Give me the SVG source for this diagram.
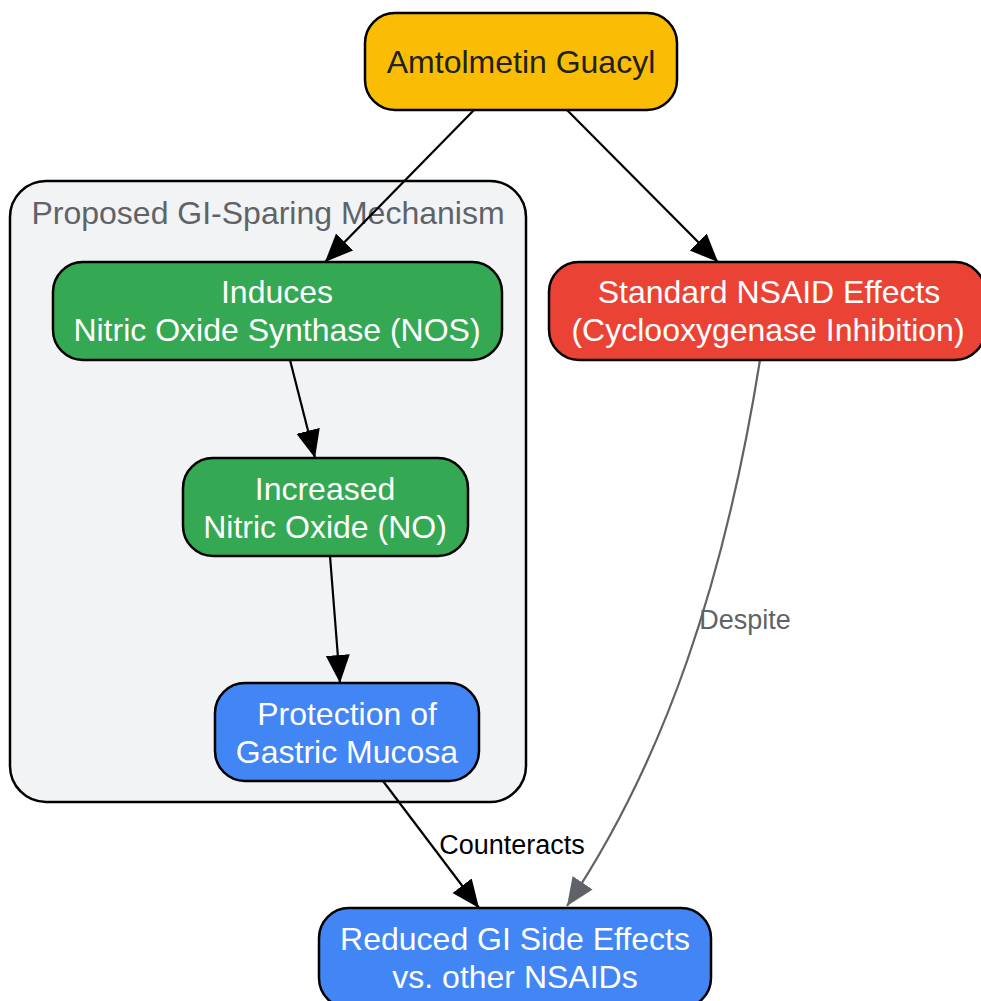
<svg xmlns="http://www.w3.org/2000/svg" width="981" height="1001" viewBox="0 0 981 1001">
<style>
.node{stroke:#000;stroke-width:2.5}
.t{font-family:"Liberation Sans",Arial,sans-serif;font-size:32px;text-anchor:middle;fill:#fff}
.e{fill:none;stroke:#000;stroke-width:2.2}
.lbl{font-family:"Liberation Sans",Arial,sans-serif;font-size:27px;text-anchor:middle}
</style>
<defs>
<marker id="ab" markerUnits="userSpaceOnUse" markerWidth="30" markerHeight="26" refX="28" refY="12" orient="auto"><path d="M0,0 L28,12 L0,24 Z" fill="#000"/></marker>
<marker id="ag" markerUnits="userSpaceOnUse" markerWidth="30" markerHeight="26" refX="28" refY="12" orient="auto"><path d="M0,0 L28,12 L0,24 Z" fill="#5f6368"/></marker>
</defs>
<rect width="981" height="1001" fill="#fff"/>
<g id="cluster">
<rect x="10" y="181" width="516" height="621" rx="36" fill="#F1F3F4" stroke="#000" stroke-width="2.5"/>
<text x="268" y="224" class="t" style="fill:#5f6368">Proposed GI-Sparing Mechanism</text>
</g>
<g id="edges">
<path class="e" d="M474,110 L325,262" marker-end="url(#ab)"/>
<path class="e" d="M567,110 L718,262" marker-end="url(#ab)"/>
<path class="e" d="M290,360 L315,458" marker-end="url(#ab)"/>
<path class="e" d="M330,556 L340,683" marker-end="url(#ab)"/>
<path class="e" d="M383,781 L479,908" marker-end="url(#ab)"/>
<path d="M760,360 C725,580 665,760 567,906" fill="none" stroke="#5f6368" stroke-width="2.2" marker-end="url(#ag)"/>
<text x="512" y="854" class="lbl" fill="#000">Counteracts</text>
<text x="745" y="629" class="lbl" fill="#5f6368">Despite</text>
</g>
<g id="amtolmetin">
<rect class="node" x="365" y="13" width="312" height="97" rx="30" fill="#FBBC04"/>
<text x="521" y="73" class="t" style="fill:#202124">Amtolmetin Guacyl</text>
</g>
<g id="nos">
<rect class="node" x="53" y="262" width="449" height="98" rx="30" fill="#34A853"/>
<text x="277" y="303" class="t">Induces</text>
<text x="277" y="341" class="t">Nitric Oxide Synthase (NOS)</text>
</g>
<g id="nsaid">
<rect class="node" x="549" y="262" width="436" height="98" rx="30" fill="#EA4335"/>
<text x="769" y="303" class="t">Standard NSAID Effects</text>
<text x="768" y="341" class="t">(Cyclooxygenase Inhibition)</text>
</g>
<g id="no">
<rect class="node" x="183" y="458" width="285" height="98" rx="30" fill="#34A853"/>
<text x="325" y="500" class="t">Increased</text>
<text x="325" y="538" class="t">Nitric Oxide (NO)</text>
</g>
<g id="protection">
<rect class="node" x="215" y="683" width="264" height="98" rx="30" fill="#4285F4"/>
<text x="347" y="725" class="t">Protection of</text>
<text x="347" y="763" class="t">Gastric Mucosa</text>
</g>
<g id="reduced">
<rect class="node" x="319" y="908" width="392" height="100" rx="30" fill="#4285F4"/>
<text x="515" y="950" class="t">Reduced GI Side Effects</text>
<text x="515" y="988" class="t">vs. other NSAIDs</text>
</g>
</svg>
